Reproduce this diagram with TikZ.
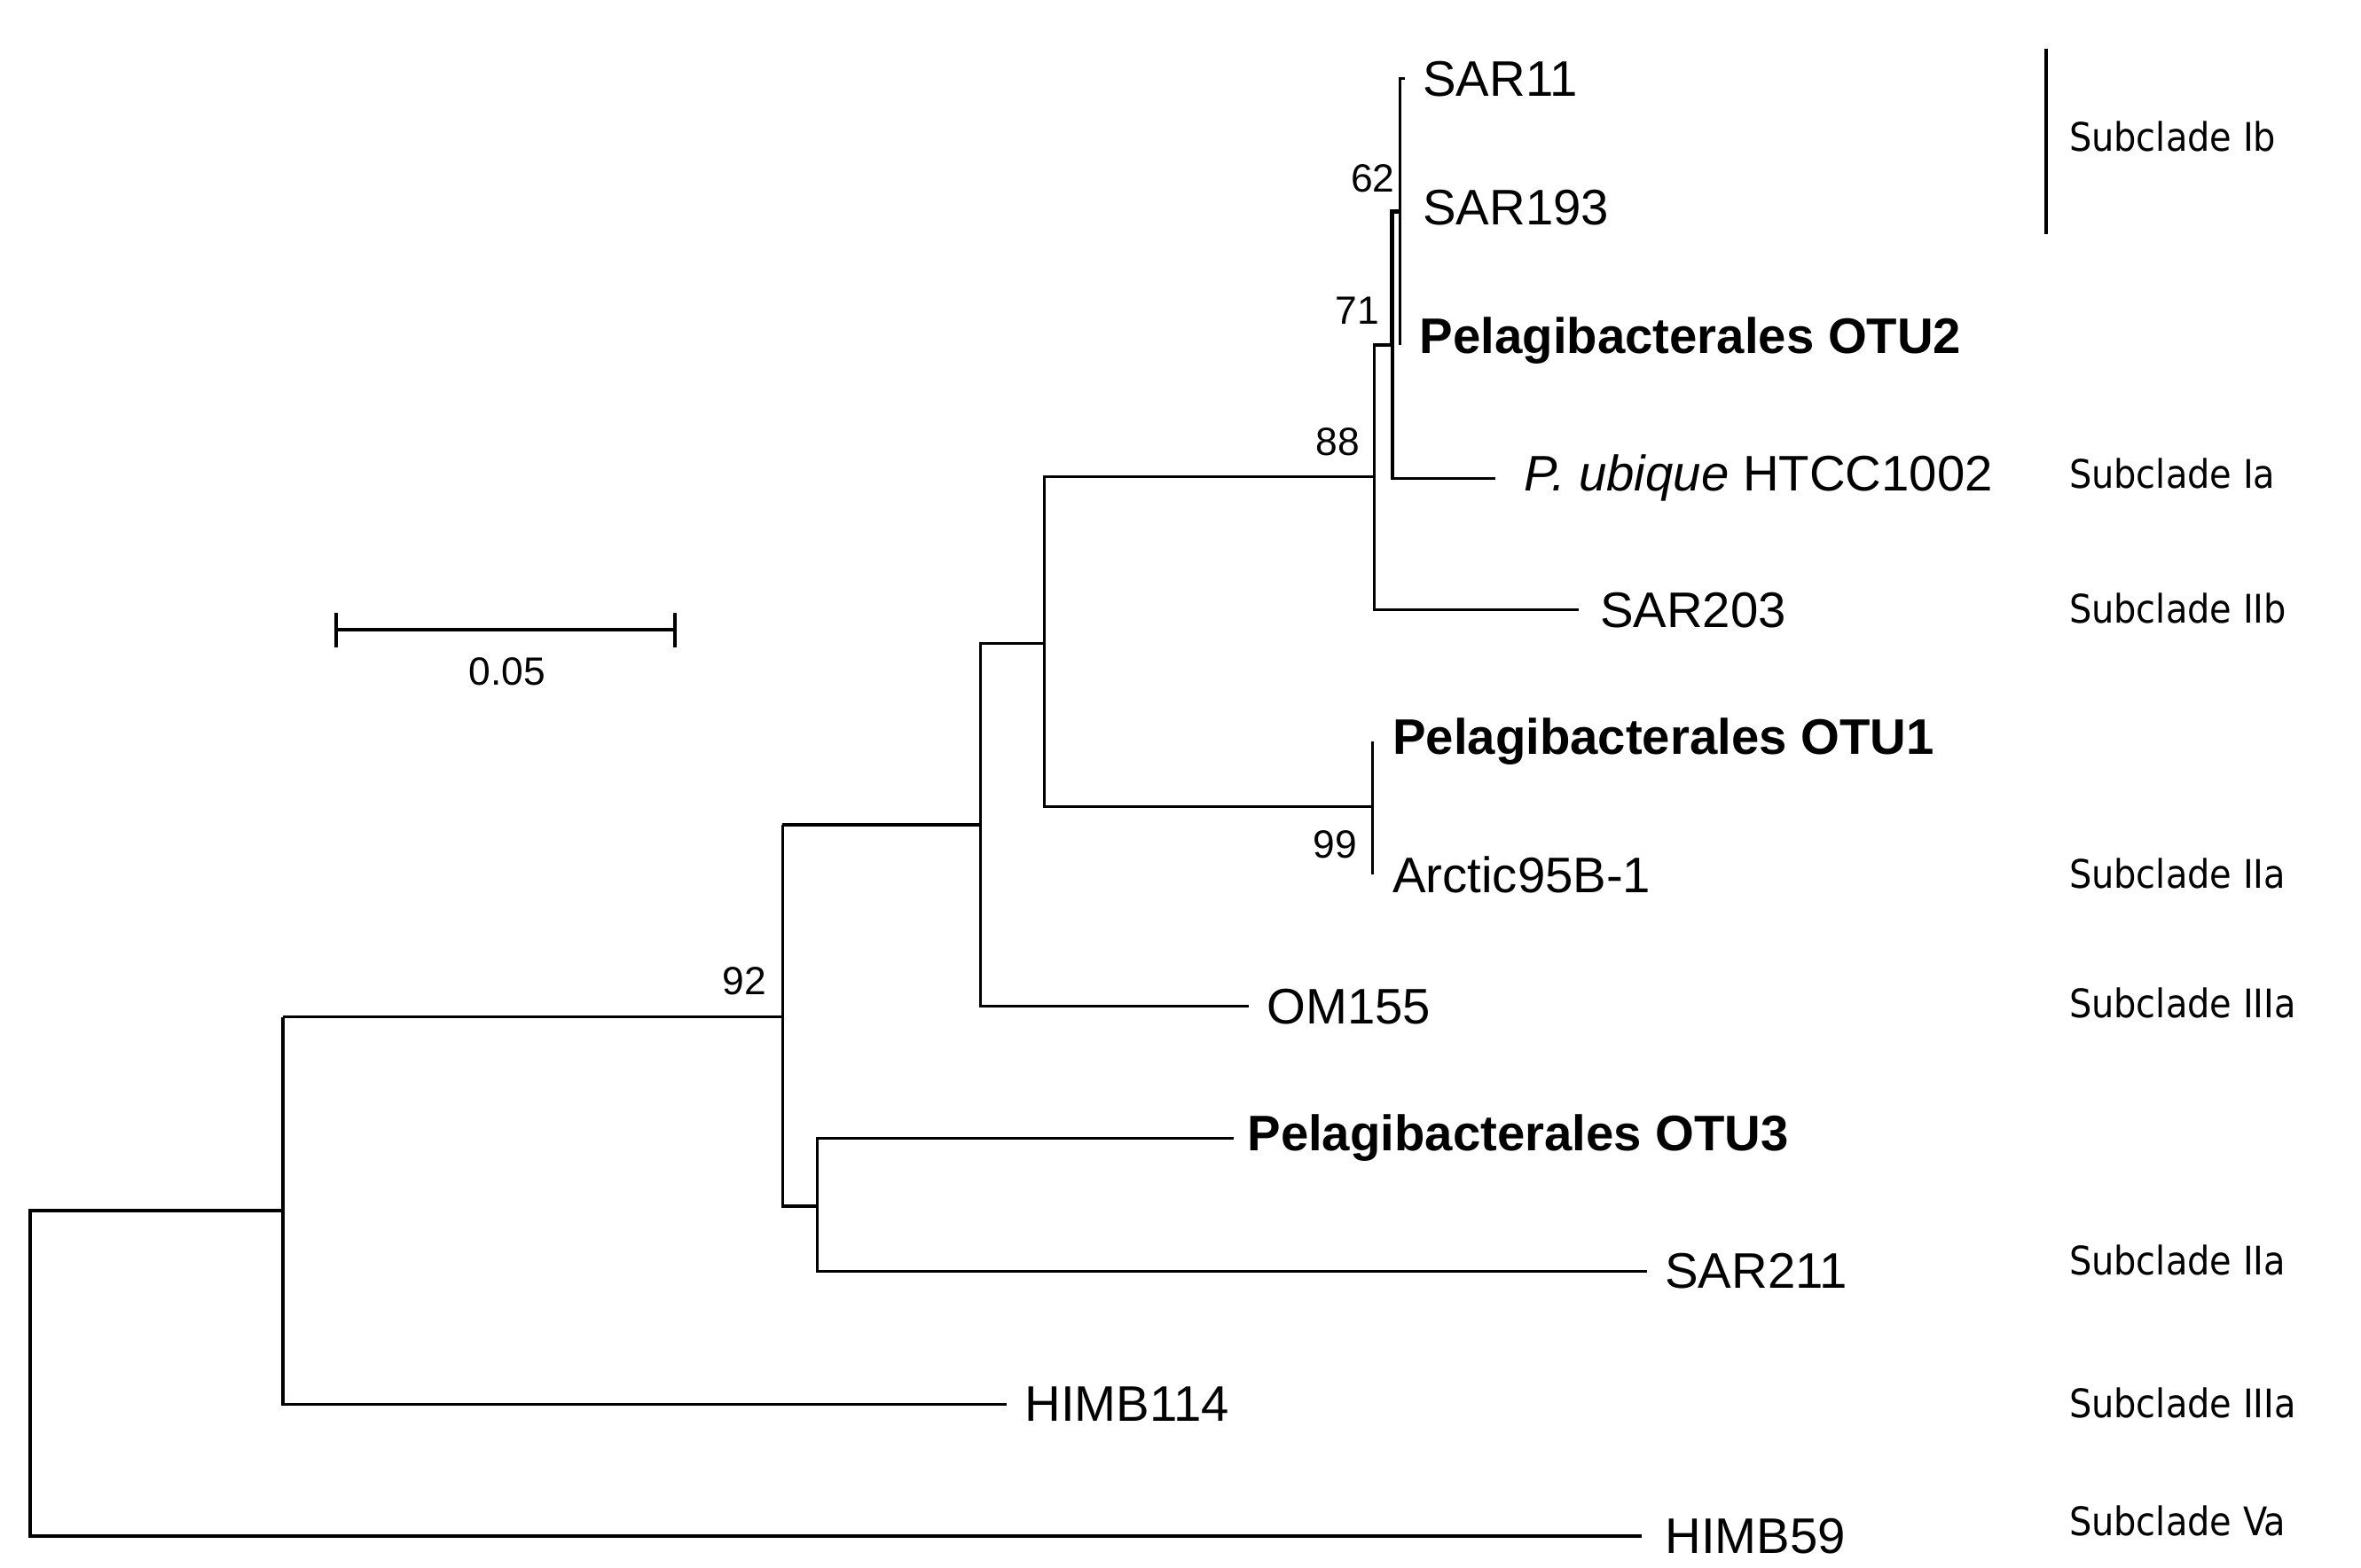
\documentclass[tikz,border=0pt]{standalone}
\usepackage{fontspec}
\setmainfont{Liberation Sans}
\newfontfamily\subfont{DejaVu Sans Condensed}
\begin{document}
\begin{tikzpicture}[x=1pt,y=-1pt,
  br/.style={line width=2pt},
  tip/.style={anchor=west,inner sep=0pt,font=\fontsize{33}{35}\selectfont},
  btip/.style={tip,font=\fontsize{33}{35}\selectfont\bfseries},
  sub/.style={anchor=west,inner sep=0pt,font=\subfont\fontsize{26}{28}\selectfont},
  bs/.style={inner sep=0pt,font=\fontsize{26}{28}\selectfont}]
\useasboundingbox (0,0) rectangle (1560,1036);
% internal nodes
\coordinate (root) at (20,800);
\coordinate (n1) at (187,672);
\coordinate (n92) at (517,672);
\coordinate (n3) at (540,797);
\coordinate (n4) at (648,545);
\coordinate (n5) at (690,425);
\coordinate (n99) at (907,533);
\coordinate (n88) at (908,315);
\coordinate (n71) at (920,228);
\coordinate (n62) at (925,140);
% tips
\coordinate (tSAR11) at (928,52);
\coordinate (tSAR193) at (928,137);
\coordinate (tOTU2) at (928,225);
\coordinate (tPub) at (988,316);
\coordinate (tSAR203) at (1043,403);
\coordinate (tOTU1) at (907,490);
\coordinate (tArc) at (907,578);
\coordinate (tOM) at (825,665);
\coordinate (tOTU3) at (815,752);
\coordinate (tSAR211) at (1088,840);
\coordinate (tH114) at (665,928);
\coordinate (tH59) at (1085,1015);
% branches
\draw[br] (187,800) -| (root) |- (tH59);
\draw[br] (187,800) -- (n1);
\draw[br] (n1) |- (tH114);
\draw[br] (n1) -- (n92);
\draw[br] (517,545) -- (517,797) -- (n3);
\draw[br] (517,545) -- (n4);
\draw[br] (n3) |- (tOTU3);
\draw[br] (n3) |- (tSAR211);
\draw[br] (n4) |- (tOM);
\draw[br] (n4) |- (n5);
\draw[br] (n5) |- (n88);
\draw[br] (n5) |- (n99);
\draw[br] (n99) -- (907,490) (n99) -- (907,578);
\draw[br] (n88) -- (908,228) -- (n71);
\draw[br] (n88) |- (tSAR203);
\draw[br] (n71) |- (tPub);
\draw[line width=3pt] (n71) -- (920,140) -- (n62);
\draw[br] (n62) |- (tSAR11);
\draw[br] (n62) -- (925,228);
% labels
\node[tip] (lSAR11) at ([xshift=12pt]tSAR11) {SAR11};
\node[tip] (lSAR193) at ([xshift=12pt]tSAR193) {SAR193};
\node[btip] (lOTU2) at ([xshift=10pt]tOTU2) {Pelagibacterales OTU2};
\node[tip] (lPub) at ([xshift=19pt]tPub) {\itshape P. ubique\/\upshape\ HTCC1002};
\node[tip] (lSAR203) at ([xshift=14pt]tSAR203) {SAR203};
\node[btip] (lOTU1) at ([xshift=13pt]tOTU1) {Pelagibacterales OTU1};
\node[tip] (lArc) at ([xshift=13pt]tArc) {Arctic95B-1};
\node[tip] (lOM) at ([xshift=12pt]tOM) {OM155};
\node[btip] (lOTU3) at ([xshift=9pt]tOTU3) {Pelagibacterales OTU3};
\node[tip] (lSAR211) at ([xshift=12pt]tSAR211) {SAR211};
\node[tip] (lH114) at ([xshift=12pt]tH114) {HIMB114};
\node[tip] (lH59) at ([xshift=15pt]tH59) {HIMB59};
% bootstrap
\node[bs] (b62) at (907,118) {62};
\node[bs] (b71) at (897,205) {71};
\node[bs] (b88) at (884,292) {88};
\node[bs] (b99) at (882,558) {99};
\node[bs] (b92) at (492,648) {92};
% subclades
\draw[br] (1352,32) -- (1352,155);
\node[sub] (sIb) at (1367,90) {Subclade Ib};
\node[sub] (sIa) at (1367,313) {Subclade Ia};
\node[sub] (sIIb) at (1367,402) {Subclade IIb};
\node[sub] (sIIa) at (1367,577) {Subclade IIa};
\node[sub] (sIIIa) at (1367,663) {Subclade IIIa};
\node[sub] (sIIa2) at (1367,833) {Subclade IIa};
\node[sub] (sIIIa2) at (1367,927) {Subclade IIIa};
\node[sub] (sVa) at (1367,1005) {Subclade Va};
% scale bar
\draw[br] (222,416) -- (446,416);
\draw[br] (222,405) -- (222,428) (446,405) -- (446,428);
\node[bs] (sc) at (335,444) {0.05};
\end{tikzpicture}
\end{document}
